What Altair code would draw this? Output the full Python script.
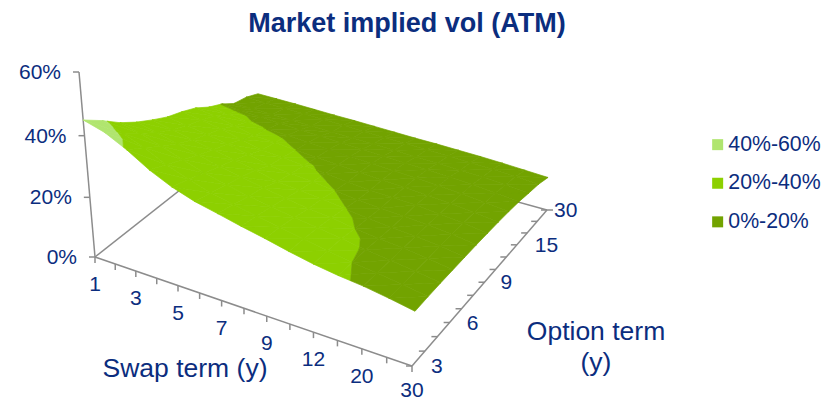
import altair as alt
import pandas as pd

# Category axes of the vol surface
swap_terms = [1, 2, 3, 4, 5, 6, 7, 8, 9, 10, 12, 15, 20, 25, 30]
option_terms = [3, 4, 5, 6, 7, 8, 9, 10, 12, 15, 20, 25, 30]

# ATM implied vol in percent: one list per swap term, one value per option term
vol_1y = [45.0, 41.2, 37.0, 33.7, 31.0, 28.6, 27.0, 25.0, 22.0, 19.8, 16.7, 15.7, 13.7]
vol_2y = [43.0, 39.0, 35.4, 32.2, 29.6, 27.6, 26.0, 24.0, 21.4, 19.3, 16.6, 15.5, 13.6]
vol_3y = [39.5, 36.4, 33.2, 30.4, 28.2, 26.4, 24.8, 22.4, 20.4, 18.9, 16.4, 15.3, 13.5]
vol_4y = [35.2, 33.0, 30.8, 28.7, 26.8, 25.2, 23.2, 21.0, 19.9, 18.5, 16.2, 15.1, 13.3]
vol_5y = [31.9, 30.4, 28.6, 27.0, 25.4, 23.6, 21.6, 20.6, 19.6, 18.1, 16.0, 14.9, 13.1]
vol_6y = [29.5, 28.3, 26.9, 25.6, 24.2, 22.0, 21.0, 20.0, 19.0, 17.8, 15.8, 14.7, 13.0]
vol_7y = [27.9, 26.7, 25.4, 24.2, 22.4, 21.4, 20.4, 19.4, 18.6, 17.4, 15.6, 14.4, 12.8]
vol_8y = [26.2, 25.3, 24.2, 23.0, 21.7, 20.7, 19.7, 19.0, 18.2, 17.1, 15.4, 14.2, 12.6]
vol_9y = [24.7, 24.0, 23.0, 21.9, 21.0, 20.0, 19.0, 18.4, 17.8, 16.8, 15.2, 14.0, 12.4]
vol_10y = [23.0, 22.6, 22.0, 21.1, 20.1, 19.1, 18.4, 18.0, 17.4, 16.4, 14.9, 13.8, 12.3]
vol_12y = [21.5, 21.3, 20.9, 20.0, 19.2, 18.5, 18.1, 17.7, 17.0, 16.1, 14.7, 13.6, 12.1]
vol_15y = [20.4, 20.0, 19.7, 19.1, 18.5, 18.1, 17.8, 17.2, 16.5, 15.7, 14.4, 13.3, 11.9]
vol_20y = [19.6, 19.2, 18.8, 18.4, 18.0, 17.6, 17.1, 16.6, 16.0, 15.3, 14.1, 13.1, 11.6]
vol_25y = [18.4, 18.1, 17.8, 17.5, 17.2, 16.8, 16.4, 15.9, 15.3, 14.6, 13.6, 12.7, 11.2]
vol_30y = [17.0, 16.9, 16.7, 16.4, 16.1, 15.8, 15.4, 15.0, 14.5, 13.9, 13.0, 12.2, 10.8]
surface = [vol_1y, vol_2y, vol_3y, vol_4y, vol_5y, vol_6y, vol_7y, vol_8y, vol_9y,
           vol_10y, vol_12y, vol_15y, vol_20y, vol_25y, vol_30y]

swap_labels = ["1", "3", "5", "7", "9", "12", "20", "30"]
option_labels = ["3", "6", "9", "15", "30"]
vol_ticks = [0, 20, 40, 60]
bands = ["40%-60%", "20%-40%", "0%-20%"]
band_limits = {"40%-60%": (40, 60), "20%-40%": (20, 40), "0%-20%": (0, 20)}
band_colors = ["#B0E56F", "#8DD000", "#72A300"]

NAVY = "#0B2D7E"
GREY = "#8C8C8C"
FONT = "Liberation Sans"


def homography(o, f, r, b):
    """Map the unit square onto the quadrilateral o, f, r, b."""
    dx1, dy1 = f[0] - r[0], f[1] - r[1]
    dx2, dy2 = b[0] - r[0], b[1] - r[1]
    sx, sy = o[0] - f[0] + r[0] - b[0], o[1] - f[1] + r[1] - b[1]
    det = dx1 * dy2 - dx2 * dy1
    g = (sx * dy2 - dx2 * sy) / det
    h = (dx1 * sy - sx * dy1) / det

    def apply(u, v):
        w = 1 + g * u + h * v
        return ((o[0] + (f[0] * (1 + g) - o[0]) * u + (b[0] * (1 + h) - o[0]) * v) / w,
                (o[1] + (f[1] * (1 + g) - o[1]) * u + (b[1] * (1 + h) - o[1]) * v) / w)
    return apply


# Oblique view of the box: floor corners and the corners of its 60% ceiling
floor = homography((95, 257), (412, 366), (547, 210), (256, 130))
ceiling = homography((79, 72), (423, 166), (553, 22), (265, -35))
DEPTH = 1.05


def project(i, j, vol):
    """Screen position of grid position (i, j) at a height given in vol points."""
    u, v = i / (len(swap_terms) - 1), j / (len(option_terms) - 1)
    z = vol / 60
    lift = z / (z + (1 - z) * DEPTH)
    fx, fy = floor(u, v)
    cx, cy = ceiling(u, v)
    return fx + (cx - fx) * lift, fy + (cy - fy) * lift


def clip(poly, level, keep_above):
    """Clip a polygon of (i, j, vol) vertices against a horizontal plane."""
    out = []
    for n, a in enumerate(poly):
        b = poly[(n + 1) % len(poly)]
        a_in = a[2] >= level if keep_above else a[2] <= level
        b_in = b[2] >= level if keep_above else b[2] <= level
        if a_in:
            out.append(a)
        if a_in != b_in:
            t = (level - a[2]) / (b[2] - a[2])
            out.append(tuple(a[k] + (b[k] - a[k]) * t for k in range(3)))
    return out


rows = []
poly_id = 0
for j in range(len(option_terms) - 2, -1, -1):
    for i in range(len(swap_terms) - 1):
        corners = [(i + di, j + dj, surface[i + di][j + dj]) for di, dj in ((0, 0), (1, 0), (1, 1), (0, 1))]
        for tri in (corners[:3], [corners[0], corners[2], corners[3]]):
            for band in bands:
                lo, hi = band_limits[band]
                piece = clip(tri, lo, True)
                piece = clip(piece, hi, False) if piece else piece
                if len(piece) < 3:
                    continue
                poly_id += 1
                for k, p in enumerate(piece + piece[:1]):
                    x, y = project(*p)
                    rows.append({"x": x, "y": y, "poly": poly_id, "k": k, "band": band})
mesh = pd.DataFrame(rows)

# Axis lines, ticks and labels all derive from the same projection
segments = []


def segment(a, b):
    segments.append({"x": a[0], "y": a[1], "x2": b[0], "y2": b[1]})


last_i, last_j = len(swap_terms) - 1, len(option_terms) - 1
segment(project(0, 0, 0), project(last_i, 0, 0))
segment(project(last_i, 0, 0), project(last_i, last_j, 0))
segment(project(last_i, last_j, 0), project(0, last_j, 0))
segment(project(0, last_j, 0), project(0, 0, 0))
segment(project(0, 0, 0), project(0, 0, 60))
TICK = 6
for i in range(last_i + 1):
    x, y = project(i, 0, 0)
    segment((x, y), (x, y + TICK))
for j in range(last_j + 1):
    x, y = project(last_i, j, 0)
    segment((x, y), (x - TICK, y))
corner_x, corner_y = project(last_i, last_j, 0)
segment((corner_x, corner_y), (corner_x + TICK, corner_y))
for vol in vol_ticks:
    x, y = project(0, 0, vol)
    segment((x, y), (x - TICK, y))
lines = pd.DataFrame(segments)

swap_text = []
for n, label in enumerate(swap_labels):
    x, y = project(n * 2, 0, 0)
    # The last label sits against the bottom edge of the page
    swap_text.append({"x": x, "y": min(y + 28, 391), "t": label})
swap_df = pd.DataFrame(swap_text)

# Gap between the option axis and each of its labels
option_gaps = [19, 17, 16, 18, 7]
option_text = []
for n, label in enumerate(option_labels):
    x, y = project(last_i, n * 3, 0)
    option_text.append({"x": x + option_gaps[n], "y": y + 1, "t": label})
option_df = pd.DataFrame(option_text)

vol_text = []
for vol in vol_ticks:
    x, y = project(0, 0, vol)
    vol_text.append({"x": x - 18, "y": y + 1, "t": f"{vol}%"})
vol_df = pd.DataFrame(vol_text)

axis_titles = pd.DataFrame([
    {"x": 185, "y": 369, "t": "Swap term (y)"},
    {"x": 596, "y": 332, "t": "Option term"},
    {"x": 596, "y": 363, "t": "(y)"},
])

X = alt.X("x:Q", scale=alt.Scale(domain=[0, 834], range=[0, 834]), axis=None)
Y = alt.Y("y:Q", scale=alt.Scale(domain=[45, 402], range=[0, 357]), axis=None)

frame = alt.Chart(lines).mark_rule(color=GREY, strokeWidth=1.5).encode(x=X, y=Y, x2="x2:Q", y2="y2:Q")

band_scale = alt.Scale(domain=bands, range=band_colors)
sheet = alt.Chart(mesh).mark_line(strokeWidth=0.7, strokeJoin="round", interpolate="linear").encode(
    x=X, y=Y,
    order="k:Q",
    detail="poly:N",
    color=alt.Color("band:N", scale=band_scale, sort=bands, legend=alt.Legend(
        title=None, orient="none", legendX=707, legendY=89, symbolType="square", symbolSize=121,
        symbolStrokeWidth=0, labelFont=FONT, labelFontSize=21.3, labelColor=NAVY, labelOffset=0,
        rowPadding=16.6, labelLimit=200)),
    fill=alt.Fill("band:N", scale=band_scale, sort=bands, legend=None),
)

text_style = {"font": FONT, "fontSize": 21, "color": NAVY}
swap_labels_layer = alt.Chart(swap_df).mark_text(align="center", **text_style).encode(x=X, y=Y, text="t:N")
option_labels_layer = alt.Chart(option_df).mark_text(align="left", **text_style).encode(x=X, y=Y, text="t:N")
vol_labels_layer = alt.Chart(vol_df).mark_text(align="right", **text_style).encode(x=X, y=Y, text="t:N")
titles = alt.Chart(axis_titles).mark_text(font=FONT, fontSize=26.5, color=NAVY, align="center").encode(x=X, y=Y, text="t:N")

chart = alt.layer(frame, sheet, swap_labels_layer, option_labels_layer, vol_labels_layer, titles).properties(
    width=834, height=357,
    padding={"left": 0, "right": 0, "top": 45, "bottom": 0},
    autosize=alt.AutoSizeParams(type="none"),
    background="white",
    title=alt.TitleParams("Market implied vol (ATM)", font=FONT, fontSize=27, fontWeight="bold",
                          color=NAVY, anchor="middle", dx=-10, offset=7),
).configure_view(stroke=None)

chart.save("out.html", embed_options={"renderer": "svg", "actions": False})
